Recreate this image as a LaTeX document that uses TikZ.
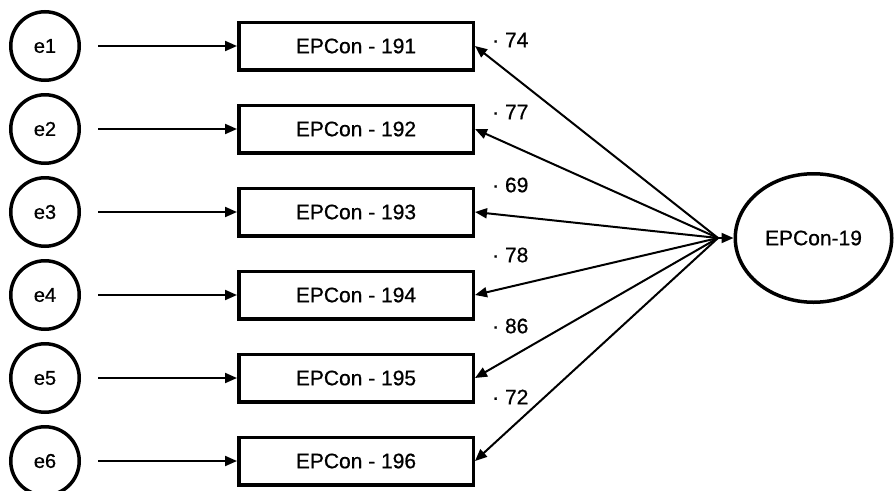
\documentclass[tikz,border=0pt]{standalone}
\usepackage{fontspec}
\setmainfont{Liberation Sans}[RawFeature={embolden=0.7}]
\usetikzlibrary{arrows.meta,shapes.geometric}

\begin{document}
\begin{tikzpicture}[x=1pt, y=-1pt,
		err/.style={draw, circle, line width=3.5pt, minimum size=68.5pt, inner sep=0pt, font=\fontsize{20}{24}\selectfont},
		item/.style={draw, rectangle, line width=3.5pt, minimum width=234.5pt, minimum height=47.5pt, inner sep=0pt, font=\fontsize{21}{25}\selectfont},
		factor/.style={draw, ellipse, line width=3.5pt, minimum width=156.5pt, minimum height=128.5pt, inner sep=0pt, font=\fontsize{21}{25}\selectfont},
		arr/.style={line width=2pt, -{Triangle[length=12pt, width=10pt]}},
		load/.style={anchor=west, inner sep=0pt, font=\fontsize{21}{25}\selectfont}]
			%%%%% START %%%%%
			
			\useasboundingbox (0, 0) rectangle (896, 490);
			
			\node[err] (e1) at (45, 46) {e1};
			\node[err] (e2) at (45, 129) {e2};
			\node[err] (e3) at (45, 212) {e3};
			\node[err] (e4) at (45, 295) {e4};
			\node[err] (e5) at (45, 378) {e5};
			\node[err] (e6) at (45, 461) {e6};
			
			\node[item] (i1) at (356, 46) {EPCon - 191};
			\node[item] (i2) at (356, 129) {EPCon - 192};
			\node[item] (i3) at (356, 212) {EPCon - 193};
			\node[item] (i4) at (356, 295) {EPCon - 194};
			\node[item] (i5) at (356, 378) {EPCon - 195};
			\node[item] (i6) at (356, 461) {EPCon - 196};
			
			\node[factor] (f) at (813.5, 238) {EPCon-19};
			\coordinate (hub) at (718, 238);
			
			\draw[arr, shorten <=17pt] (e1) -- (i1);
			\draw[arr, shorten <=17pt] (e2) -- (i2);
			\draw[arr, shorten <=17pt] (e3) -- (i3);
			\draw[arr, shorten <=17pt] (e4) -- (i4);
			\draw[arr, shorten <=17pt] (e5) -- (i5);
			\draw[arr, shorten <=17pt] (e6) -- (i6);
			
			\draw[arr] (hub) -- (i1.east);
			\draw[arr] (hub) -- (i2.east);
			\draw[arr] (hub) -- (i3.east);
			\draw[arr] (hub) -- (i4.east);
			\draw[arr] (hub) -- (i5.east);
			\draw[arr] (hub) -- (i6.east);
			\draw[arr] (hub) -- (f.west);
			
			\node[load] (l1) at (492, 40) {· 74};
			\node[load] (l2) at (492, 112) {· 77};
			\node[load] (l3) at (492, 185) {· 69};
			\node[load] (l4) at (492, 255) {· 78};
			\node[load] (l5) at (492, 326) {· 86};
			\node[load] (l6) at (492, 397) {· 72};
			
			%%%%% END %%%%%
		\end{tikzpicture}
\end{document}
